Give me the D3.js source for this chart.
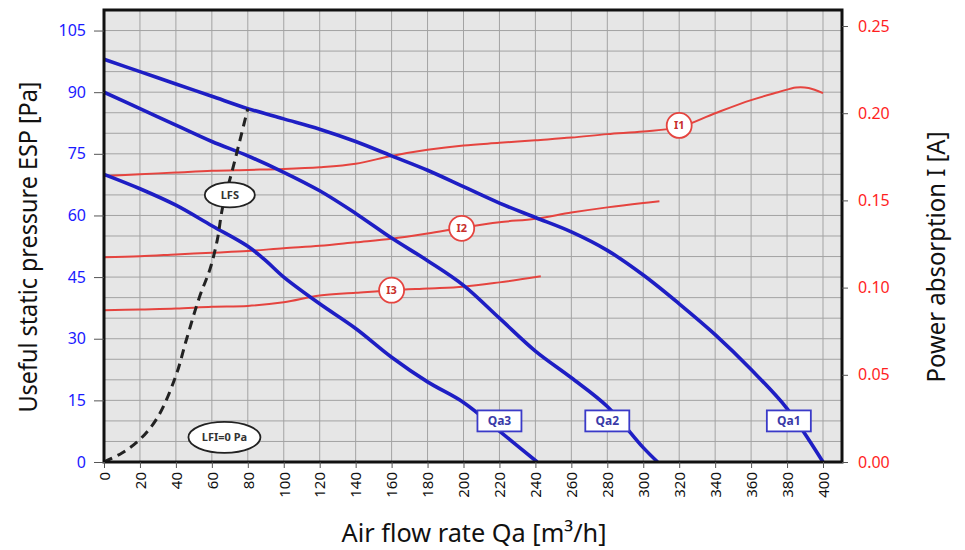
<!DOCTYPE html>
<html><head><meta charset="utf-8">
<script src="https://cdn.jsdelivr.net/npm/d3@7/dist/d3.min.js"></script>
<style>
body{margin:0;background:#fff}
text{font-family:"Noto Sans",sans-serif}
</style>
</head><body>
<svg id="chart" width="965" height="550"></svg>
<script>
// ---------- data ----------
const flowTicks = [0,20,40,60,80,100,120,140,160,180,200,220,240,260,280,300,320,340,360,380,400];
const pressureTicks = [0,15,30,45,60,75,90,105];
const currentTicks = [0,0.05,0.10,0.15,0.20,0.25];

const qa1Flow     = [0,20,40,60,80,100,120,140,160,180,200,220,240,260,280,300,320,340,360,380,400];
const qa1Pressure = [98,95,92,89,86,83.5,81,78,74.5,71,67,63,59.5,56,51.5,45.5,38.5,31,22.5,13,0];

const qa2Flow     = [0,20,40,60,80,100,120,140,160,180,200,220,240,260,280,300,308];
const qa2Pressure = [90,86,82,78,74.5,70.5,66,60.5,54.5,49,43,35,27,20.5,13.5,3.5,0];

const qa3Flow     = [0,20,40,60,80,90,100,120,140,160,180,200,220,241];
const qa3Pressure = [70,66.5,62.5,57.5,52.5,49,45,38.5,32.5,25.5,19.5,14.5,7.5,0];

const i1Flow    = [0,20,40,60,80,100,120,140,160,180,200,220,240,260,280,300,320,340,360,375,385,392,400];
const i1Current = [0.164,0.165,0.166,0.167,0.1675,0.168,0.169,0.171,0.1755,0.179,0.1815,0.183,0.1845,0.186,0.188,0.1895,0.192,0.2,0.2075,0.212,0.2148,0.2145,0.2115];

const i2Flow    = [0,20,40,60,80,100,120,140,160,180,200,220,240,260,280,300,309];
const i2Current = [0.1174,0.118,0.119,0.120,0.121,0.1226,0.124,0.126,0.128,0.131,0.1345,0.1375,0.1395,0.143,0.146,0.1485,0.1495];

const i3Flow    = [0,20,40,60,80,100,120,140,160,180,200,220,243];
const i3Current = [0.087,0.0875,0.088,0.089,0.0895,0.0916,0.0955,0.097,0.0985,0.0995,0.1005,0.103,0.1065];

const lfsFlow     = [0,10,20,30,40,46,53,59,63,66,72,80];
const lfsPressure = [0,2.2,5.5,11,21,30,40,47,54,62,72,86];

const qaLabels = ["Qa1","Qa2","Qa3"];
const qaLabelFlow = [381,280,220];
const qaLabelPressure = [10,10,10];

const iLabels = ["I1","I2","I3"];
const iLabelFlow = [320,199,160];
const iLabelCurrent = [0.193,0.134,0.0985];

const noteLabels = ["LFS","LFI=0 Pa"];
const noteFlow = [70,67];
const notePressure = [65,6];

// ---------- scales ----------
const svg = d3.select("#chart");
const x = d3.scaleLinear().domain([0,400]).range([104,823]);
const y = d3.scaleLinear().domain([0,110]).range([462,10]);
const yR = d3.scaleLinear().domain([0,0.25]).range([462,26]);
const xMax = x.invert(842);

const BLUE = "#1e1ec4", RED = "#e5443f";

// plot background
svg.append("rect").attr("x",x(0)).attr("y",y(110))
  .attr("width",x(xMax)-x(0)).attr("height",y(0)-y(110)).attr("fill","#e6e6e6");

// grid
const grid = svg.append("g").attr("stroke","#a3a3a3").attr("stroke-width",1);
grid.selectAll("line.v").data(flowTicks).join("line")
  .attr("x1",d=>x(d)).attr("x2",d=>x(d)).attr("y1",y(0)).attr("y2",y(110));
grid.selectAll("line.h").data(d3.range(5,110,5)).join("line")
  .attr("y1",d=>y(d)).attr("y2",d=>y(d)).attr("x1",x(0)).attr("x2",x(xMax));

svg.append("clipPath").attr("id","clip").append("rect")
  .attr("x",x(0)).attr("y",y(110)).attr("width",x(xMax)-x(0)).attr("height",y(0)-y(110));
const plot = svg.append("g").attr("clip-path","url(#clip)");

const curve = d3.curveCatmullRom.alpha(0.5);
const lineP = d3.line().x(d=>x(d[0])).y(d=>y(d[1])).curve(curve);
const lineI = d3.line().x(d=>x(d[0])).y(d=>yR(d[1])).curve(curve);
const zip = (a,b)=>a.map((v,i)=>[v,b[i]]);

// red current curves
[[i1Flow,i1Current],[i2Flow,i2Current],[i3Flow,i3Current]].forEach(([f,c])=>{
  plot.append("path").attr("d",lineI(zip(f,c))).attr("fill","none")
    .attr("stroke",RED).attr("stroke-width",2);
});
// blue pressure curves
[[qa1Flow,qa1Pressure],[qa2Flow,qa2Pressure],[qa3Flow,qa3Pressure]].forEach(([f,p])=>{
  plot.append("path").attr("d",lineP(zip(f,p))).attr("fill","none")
    .attr("stroke",BLUE).attr("stroke-width",3.6).attr("stroke-linejoin","round");
});
// LFS dashed
plot.append("path").attr("d",lineP(zip(lfsFlow,lfsPressure)))
  .attr("fill","none").attr("stroke","#222").attr("stroke-width",3)
  .attr("stroke-dasharray","9,6");

// frame
svg.append("rect").attr("x",x(0)).attr("y",y(110))
  .attr("width",x(xMax)-x(0)).attr("height",y(0)-y(110))
  .attr("fill","none").attr("stroke","#111").attr("stroke-width",3);

// axes
const axL = svg.append("g").attr("transform",`translate(${x(0)},0)`)
  .call(d3.axisLeft(y).tickValues(pressureTicks).tickSize(10).tickPadding(8).tickFormat(d3.format("d")));
axL.select(".domain").remove();
axL.selectAll("line").attr("stroke","#555");
axL.selectAll("text").attr("fill","#1a1aff").style("font-size","16px");

const axR = svg.append("g").attr("transform",`translate(${x(xMax)},0)`)
  .call(d3.axisRight(yR).tickValues(currentTicks).tickSize(6).tickPadding(10).tickFormat(d3.format(".2f")));
axR.select(".domain").remove();
axR.selectAll("line").attr("stroke","#555");
axR.selectAll("text").attr("fill","#ff1f1f").style("font-size","16px");

const axB = svg.append("g").attr("transform",`translate(0,${y(0)})`)
  .call(d3.axisBottom(x).tickValues(flowTicks).tickSize(6).tickFormat(d3.format("d")));
axB.select(".domain").remove();
axB.selectAll("line").attr("stroke","#555");
axB.selectAll("text").attr("fill","#111").style("font-size","15px")
  .attr("transform","rotate(-90)").attr("text-anchor","end")
  .attr("x",-10).attr("y",0).attr("dy","0.35em");

// Qa labels
qaLabels.forEach((t,i)=>{
  const cx = x(qaLabelFlow[i]), cy = y(qaLabelPressure[i]);
  svg.append("rect").attr("x",cx-22).attr("y",cy-10.5).attr("width",44).attr("height",21)
    .attr("fill","#fff").attr("stroke","#3a3ac8").attr("stroke-width",1.8);
  svg.append("text").attr("x",cx).attr("y",cy).attr("dy","0.36em").attr("text-anchor","middle")
    .attr("fill","#3a3aa8").style("font-size","12px").style("font-weight","bold").text(t);
});
// I labels
iLabels.forEach((t,i)=>{
  const cx = x(iLabelFlow[i]), cy = yR(iLabelCurrent[i]);
  svg.append("circle").attr("cx",cx).attr("cy",cy).attr("r",12.5)
    .attr("fill","#fff").attr("stroke",RED).attr("stroke-width",1.8);
  svg.append("text").attr("x",cx).attr("y",cy).attr("dy","0.36em").attr("text-anchor","middle")
    .attr("fill","#c8302c").style("font-size","11px").style("font-weight","bold").text(t);
});
// LFS / LFI labels
const noteRx = [25,36], noteRy = [12.5,15.5];
noteLabels.forEach((t,i)=>{
  const cx = x(noteFlow[i]), cy = y(notePressure[i]);
  svg.append("ellipse").attr("cx",cx).attr("cy",cy).attr("rx",noteRx[i]).attr("ry",noteRy[i])
    .attr("fill","#fff").attr("stroke","#222").attr("stroke-width",1.8);
  svg.append("text").attr("x",cx).attr("y",cy).attr("dy","0.36em").attr("text-anchor","middle")
    .attr("fill","#333").style("font-size","11px").style("font-weight","bold").text(t);
});

// titles
svg.append("text").attr("transform","translate(37,247) rotate(-90)")
  .attr("text-anchor","middle").attr("fill","#111").style("font-size","25px")
  .attr("textLength",331).attr("lengthAdjust","spacingAndGlyphs")
  .text("Useful static pressure ESP [Pa]");
svg.append("text").attr("transform","translate(945,257) rotate(-90)")
  .attr("text-anchor","middle").attr("fill","#111").style("font-size","25px")
  .attr("textLength",251).attr("lengthAdjust","spacingAndGlyphs")
  .text("Power absorption I [A]");
svg.append("text").attr("x",474).attr("y",542)
  .attr("text-anchor","middle").attr("fill","#111").style("font-size","25px")
  .attr("textLength",265).attr("lengthAdjust","spacingAndGlyphs")
  .text("Air flow rate Qa [m³/h]");
</script>
</body></html>
